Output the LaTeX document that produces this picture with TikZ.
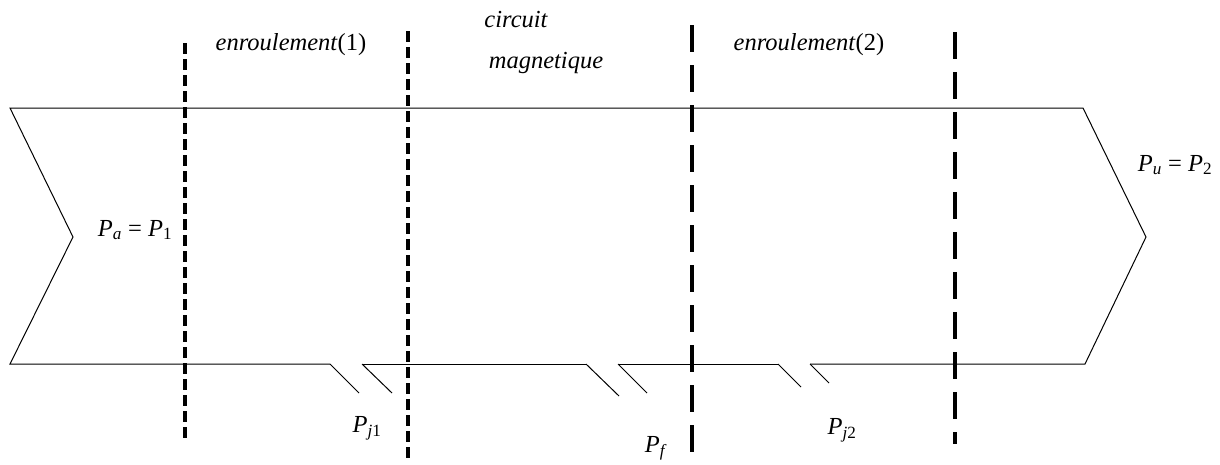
\documentclass[tikz,border=0pt]{standalone}
\usepackage{fontspec}
\setmainfont{Liberation Serif}
\newcommand{\pw}[1]{\textit{P}\textsubscript{#1}}

\begin{document}
\begin{tikzpicture}[x=1pt,y=-1pt,
	zone/.style={font=\fontsize{24.5}{28}\selectfont\itshape},
	power/.style={font=\fontsize{24.5}{28}\selectfont},
	shortdash/.style={line width=3.2pt,dash pattern=on 11pt off 5pt},
	longdash/.style={line width=3.4pt,dash pattern=on 27pt off 13pt}]
	\useasboundingbox (0,0) rectangle (1220,464);

	\coordinate (gapA) at (330,364);
	\coordinate (gapB) at (362,364);
	\coordinate (gapC) at (586,364);
	\coordinate (gapD) at (618,364);
	\coordinate (gapE) at (778,364);
	\coordinate (gapF) at (810,364);

	\draw[line width=1pt] (gapA) -- (10,364) -- (73,237) -- (10,108) -- (1083,108) -- (1146,237) -- (1085,364) -- (gapF);
	\draw[line width=1pt] (gapB) -- (gapC);
	\draw[line width=1pt] (gapD) -- (gapE);
	\draw[line width=1pt] (gapA) -- ++(29,29);
	\draw[line width=1pt] (gapB) -- ++(30,29);
	\draw[line width=1pt] (gapC) -- ++(33,32);
	\draw[line width=1pt] (gapD) -- ++(29,29);
	\draw[line width=1pt] (gapE) -- ++(23,23);
	\draw[line width=1pt] (gapF) -- ++(19,19);

	\draw[shortdash] (185,43) -- (185,440);
	\draw[shortdash] (408,31) -- (408,462);
	\draw[longdash] (692,25) -- (692,458);
	\draw[longdash] (955,32) -- (955,444);

	\node[zone] (wind1) at (291,45) {enroulement\textup{(1)}};
	\node[zone] (circ) at (516,20) {circuit};
	\node[zone] (magn) at (546,63) {magnetique};
	\node[zone] (wind2) at (809,45) {enroulement\textup{(2)}};

	\node[power] (pin) at (135,230) {\pw{\textit{a}} = \pw{1}};
	\node[power] (pout) at (1175,165) {\pw{\textit{u}} = \pw{2}};
	\node[power] (pj1) at (367,428) {\pw{\textit{j}1}};
	\node[power] (pf) at (656,448) {\pw{\textit{f}}};
	\node[power] (pj2) at (842,430) {\pw{\textit{j}2}};
\end{tikzpicture}
\end{document}
